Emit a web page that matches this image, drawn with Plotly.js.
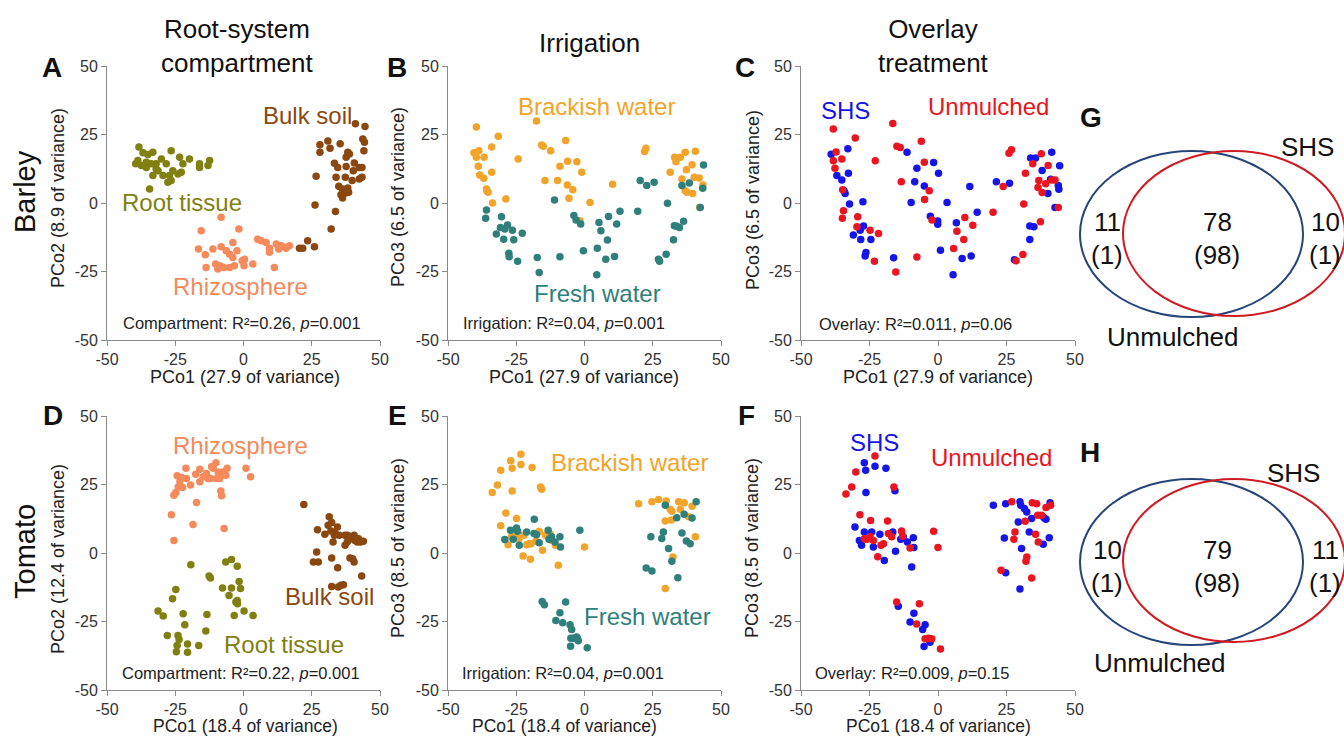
<!DOCTYPE html>
<html>
<head>
<meta charset="utf-8">
<script src="https://cdn.plot.ly/plotly-3.0.1.min.js"></script>
<style>html,body{margin:0;padding:0;background:#fff;}#chart{width:1344px;height:738px;}</style>
</head>
<body>
<div id="chart"></div>
<script>
// ---------- DATA ----------
var tickVals = [-50, -25, 0, 25, 50];
var tickLabels = ['-50', '-25', '0', '25', '50'];

// Panel A (Barley, PCo1 vs PCo2)
var aRootX = [-38.3,-36.8,-35.0,-33.2,-38.7,-39.5,-37.4,-35.6,-33.8,-32.0,-30.1,-28.3,-26.5,-23.4,-22.2,-19.8,-16.1,-16.1,-12.4,-13.0,-33.2,-31.3,-29.5,-27.1,-25.9,-24.0,-22.8,-27.7,-26.5,-34.4,-32.0,-35.6];
var aRootY = [20.4,18.3,17.7,18.5,15.5,14.3,13.7,14.9,14.3,14.3,16.1,14.3,19.1,16.7,14.3,16.1,14.3,13.0,15.5,13.7,10.0,11.8,10.0,10.0,11.8,10.6,11.2,7.6,8.2,5.1,12.4,13.0];
var aRhizoX = [-8.2,-15.5,-1.7,-16.5,-14.0,-11.2,-8.2,-6.3,-5.1,-2.4,-3.9,0.4,-3.3,-5.1,-7.2,-8.7,-10.2,-9.4,-13.7,0.2,3.4,-0.5,-3.9,5.2,6.5,8.3,9.5,12.0,13.8,12.9,9.5,15.6,16.8,11.3,14.1];
var aRhizoY = [-5.2,-10.1,-9.5,-16.8,-18.9,-16.8,-16.0,-17.4,-18.7,-17.4,-19.9,-20.5,-22.9,-23.5,-23.5,-22.9,-22.3,-24.1,-23.5,-22.9,-22.3,-21.1,-14.4,-13.2,-13.8,-14.4,-16.5,-15.0,-15.6,-16.8,-18.0,-16.5,-15.6,-23.5,-15.9];
var aBulkX = [41.0,44.5,28.0,30.9,31.7,35.4,28.0,38.2,38.8,37.6,43.7,44.3,44.1,33.3,34.5,40.6,42.4,43.4,37.6,33.9,37.3,39.8,42.4,43.4,40.2,26.6,34.9,36.3,38.2,37.6,35.7,38.5,36.3,33.7,26.2,32.1,23.5,20.5,21.7,26.0];
var aBulkY = [28.9,27.9,21.3,22.6,20.0,21.6,18.5,18.5,17.9,16.7,23.4,22.2,19.1,14.5,13.0,14.6,13.0,13.0,13.3,9.4,9.4,8.2,8.8,9.4,11.8,9.8,6.1,5.1,5.5,3.7,3.0,3.9,1.8,-3.1,-0.7,-9.5,-13.8,-16.5,-16.5,-16.0];

// Panel B (Barley, PCo1 vs PCo3)
var bBrackX = [-39.6,-40.5,-38.7,-39.6,-38.9,-38.4,-36.9,-36.8,-35.9,-35.7,-35.3,-33.7,-34.0,-34.0,-31.6,-28.8,-24.3,-17.6,-15.7,-15.1,-12.4,-14.5,-9.9,-9.0,-6.9,-6.2,-6.3,-5.7,-4.3,-2.8,-1.0,2.0,-1.7,10.3,22.0,22.5,31.4,33.0,33.5,35.1,36.9,35.7,37.3,36.9,37.5,39.6,39.4,40.6,40.2,42.0,43.4,42.2];
var bBrackY = [27.7,18.3,19.1,16.7,13.4,10.2,9.0,16.7,5.1,4.3,3.9,0.0,11.2,20.4,24.4,1.5,16.1,29.9,21.2,20.7,19.1,8.2,8.2,13.4,22.8,15.2,6.6,1.7,4.8,15.1,11.2,0.2,-6.5,6.8,18.8,20.0,11.2,16.7,15.1,16.7,18.5,8.8,12.1,4.5,3.9,3.5,14.0,18.9,9.4,9.1,6.6,-1.6];
var bFreshX = [-35.9,-36.2,-32.3,-30.4,-30.8,-29.2,-29.6,-28.2,-26.4,-25.9,-22.8,-27.7,-27.6,-24.5,-17.3,-16.6,-9.0,-11.0,-3.9,-3.1,-1.4,-0.4,4.7,5.3,6.0,8.4,8.8,7.8,11.0,11.8,13.0,4.5,19.5,20.4,22.8,25.5,27.1,27.5,29.9,30.4,32.6,32.9,33.8,34.8,36.3,35.7,38.4,43.3,43.6,42.4];
var bFreshY = [-2.6,-5.6,-11.3,-5.0,-8.9,-9.5,-13.2,-8.0,-9.9,-13.4,-11.0,-18.3,-19.6,-21.3,-19.9,-25.4,-19.6,1.1,-4.6,-6.2,-7.7,-17.4,-16.5,-7.1,-10.1,-13.5,-4.9,-20.5,-19.5,-7.7,-3.0,-26.2,-3.0,8.2,6.4,7.6,-20.5,-21.3,-18.7,-0.1,-13.4,-8.3,-8.5,-8.9,-6.7,6.4,7.3,5.4,13.9,-1.6];

// Panel C (Barley, overlay treatment)
var cShsX = [-39.0,-32.9,-36.9,-35.1,-34.3,-33.9,-32.7,-32.3,-27.4,-30.9,-28.2,-28.4,-27.2,-24.5,-26.3,-26.6,-16.2,-11.3,-9.8,-7.7,-8.5,-5.0,-1.6,0.2,-2.8,-0.1,-0.1,0.9,3.3,6.7,5.5,8.8,11.6,12.1,14.3,21.3,26.1,27.9,33.5,33.5,33.8,35.6,35.0,38.0,40.1,41.1,41.5,42.7,44.4,43.9,44.1];
var cShsY = [17.8,19.8,10.0,8.4,4.5,3.5,10.9,-0.4,0.5,-11.7,-13.3,-9.9,-8.4,-13.3,-18.1,-19.3,-20.0,18.5,0.2,12.7,7.8,6.2,14.8,10.9,-4.8,-6.6,-7.8,-17.2,0.2,-7.2,-26.2,-20.3,6.0,-19.3,-3.4,7.8,7.2,-20.7,-8.4,-13.3,16.4,16.4,-8.7,11.9,3.5,8.7,18.5,-1.6,13.6,6.4,5.0];
var cUnX = [-38.2,-38.2,-37.2,-37.6,-35.1,-34.8,-34.5,-34.9,-30.2,-29.6,-29.3,-24.8,-22.9,-21.7,-23.2,-16.5,-15.0,-13.8,-13.4,-15.4,-7.7,-6.1,-5.0,-4.9,-3.2,-2.2,5.7,6.9,9.4,9.8,12.7,20.1,23.8,25.9,26.8,28.5,31.0,31.3,31.9,34.6,36.8,36.5,37.7,37.4,38.0,39.3,40.2,41.5,42.7,43.9];
var cUnY = [27.0,15.4,18.6,12.7,16.1,4.8,-2.8,-5.6,23.7,-8.7,-5.0,-9.9,15.4,-11.1,-21.3,29.0,20.7,20.3,7.8,-25.2,-19.7,22.5,14.9,1.3,4.5,-6.2,-16.6,-10.3,-13.3,-5.3,-8.1,-3.4,6.0,18.2,19.4,-21.1,-18.8,-0.4,10.9,14.3,8.2,5.7,18.0,-6.8,3.8,7.0,13.7,8.4,8.4,-1.6];

// Panel D (Tomato, PCo1 vs PCo2)
var dRhizoX = [-16.0,-21.1,-24.3,-22.7,-20.9,-19.4,-23.3,-23.9,-22.3,-24.8,-25.5,-17.5,-16.0,-14.8,-13.6,-13.0,-11.1,-10.1,-11.7,-9.3,-8.7,-7.5,-6.0,-6.5,-9.9,-12.1,-8.3,-8.0,0.9,2.6,-17.2,-26.4,-18.5,-7.1,-25.5];
var dRhizoY = [30.6,30.9,28.2,27.6,27.2,24.8,26.0,24.1,23.9,22.1,21.1,28.7,26.0,27.8,29.0,27.2,30.9,32.9,31.5,29.6,27.2,29.6,30.9,28.4,27.2,27.2,22.6,20.9,30.9,27.8,18.4,14.0,10.4,8.9,4.6];
var dRootX = [-19.3,-6.5,-4.4,-2.3,-12.6,-12.1,-1.6,-1.1,-4.4,-7.7,-5.3,-2.3,-2.8,-2.2,0.2,3.5,-3.4,-24.8,-26.0,-31.3,-29.4,-22.1,-21.5,-27.9,-24.0,-23.6,-24.3,-24.6,-20.5,-20.5,-16.4,-13.4,-13.8];
var dRootY = [-4.3,-3.3,-2.4,-4.8,-8.4,-9.1,-10.4,-13.0,-12.8,-12.8,-15.5,-17.3,-17.9,-18.5,-21.2,-22.8,-22.8,-13.3,-16.7,-21.2,-23.0,-22.2,-26.2,-30.1,-30.1,-31.6,-33.8,-36.0,-33.2,-36.2,-33.8,-22.4,-28.5];
var dBulkX = [22.1,27.1,31.0,32.0,33.5,33.3,34.4,31.4,32.3,29.8,32.8,35.1,37.2,38.1,39.0,40.5,40.8,42.1,42.9,43.9,41.7,38.0,37.2,26.8,25.6,27.4,32.3,39.0,40.0,40.5,34.5,43.3,32.3,34.7,35.7,36.6];
var dBulkY = [17.7,8.5,10.1,8.0,7.4,6.5,9.5,13.2,11.1,6.8,4.0,6.5,6.5,6.5,5.2,6.5,4.6,5.2,4.0,4.3,4.0,4.0,2.8,0.4,-3.3,-3.3,-1.8,-1.8,-2.1,-3.3,-5.4,-8.4,-12.2,-12.4,-11.8,-11.6];

// Panel E (Tomato, PCo1 vs PCo3)
var eBrackX = [-33.8,-31.9,-30.7,-27.0,-26.5,-26.5,-23.3,-23.3,-19.2,-16.1,-15.7,-28.8,-30.7,-24.9,-28.0,-26.8,-25.2,-24.0,-22.2,-21.2,-20.3,-19.6,-22.5,-19.8,-16.6,-17.8,-15.4,-14.3,-12.4,-12.0,-10.6,-9.6,0.0,19.8,24.7,27.1,29.9,29.6,31.4,32.0,32.4,31.8,34.5,36.5,38.1,39.4,40.6,29.6,35.1];
var eBrackY = [22.1,24.8,30.2,33.7,30.9,22.6,36.0,32.3,31.2,24.1,23.3,14.6,9.9,12.6,3.0,5.9,6.7,5.2,6.5,3.0,3.4,3.4,-1.1,-2.3,7.9,4.3,1.0,6.5,6.7,4.6,2.8,-4.5,2.2,18.0,18.7,19.5,19.0,11.7,16.0,15.2,-1.5,12.0,18.7,18.3,13.2,17.1,5.9,-13.0,16.0];
var eFreshX = [-29.2,-27.1,-26.1,-24.9,-24.5,-23.9,-21.2,-18.5,-18.4,-17.6,-16.6,-13.3,-13.0,-12.1,-10.8,-9.0,-8.8,-1.7,-15.5,-14.7,-10.5,-9.0,-8.0,-6.9,-5.3,-4.7,-5.0,-4.1,-2.9,-2.3,-5.1,1.0,-2.6,22.6,24.7,24.3,28.3,28.9,29.6,30.8,32.0,34.2,33.8,35.7,36.5,37.3,38.7,39.4,40.9];
var eFreshY = [4.9,8.3,5.0,9.1,7.9,2.8,7.7,7.1,12.3,6.7,3.7,8.3,5.0,5.9,4.0,5.9,2.2,8.3,-17.7,-18.9,-24.6,-21.8,-25.5,-17.9,-26.2,-27.9,-31.1,-31.1,-30.7,-32.0,-34.0,-34.6,-31.1,-5.5,-6.6,5.9,5.3,7.7,17.4,1.6,-3.0,-9.0,12.9,7.3,14.1,4.4,3.4,12.8,18.7];

// Panel F (Tomato, overlay treatment)
var fShsX = [-26.9,-26.4,-23.0,-19.0,-26.3,-15.7,-30.3,-28.7,-27.9,-26.9,-24.2,-23.6,-21.2,-19.6,-16.5,-15.5,-13.6,-12.7,-11.2,-9.0,-8.8,-9.6,-14.5,-8.8,-10.2,-4.7,-5.6,-2.9,-5.1,20.2,24.7,24.2,24.7,29.9,30.2,31.5,32.4,29.3,30.5,34.2,29.9,38.7,39.4,40.9,40.6,38.4,33.3];
var fShsY = [32.9,30.2,31.7,30.9,22.1,22.7,9.5,4.6,2.8,7.7,7.7,2.2,6.8,-2.7,7.7,0.6,5.0,5.9,4.0,5.6,2.0,-5.1,-19.4,-22.0,-25.2,-26.2,-27.9,-32.6,-34.1,17.4,18.0,5.5,-7.2,18.7,17.4,16.2,15.0,11.3,1.6,12.6,-13.1,12.9,12.3,18.3,5.6,3.2,7.7];
var fUnX = [-33.6,-31.5,-30.0,-23.0,-28.5,-24.6,-26.9,-26.0,-24.8,-23.6,-22.0,-20.8,-19.9,-18.4,-18.1,-16.9,-16.1,-13.3,-12.9,-10.2,-1.6,0.0,-15.1,-6.8,-7.8,-4.7,-3.5,-2.3,0.9,23.0,26.9,28.1,27.7,31.8,32.4,32.1,34.4,36.0,36.4,35.6,36.6,37.8,39.4,34.2,41.1];
var fUnY = [21.5,24.1,29.6,35.4,14.0,11.9,5.2,5.0,5.9,4.6,-1.4,2.8,3.4,11.7,7.1,5.9,24.1,8.0,6.1,1.8,7.9,2.0,-17.9,-18.5,-25.9,-31.3,-31.1,-31.3,-35.0,-6.3,18.7,7.7,5.0,11.6,-1.5,-3.0,18.3,18.0,13.8,6.8,4.0,13.8,16.6,-9.1,17.4];

// Venn counts (G: Barley, H: Tomato): [Unmulched only, shared, SHS only]
var vennSets = ['Unmulched', 'SHS'];
var vennG = [11, 78, 10];
var vennGsub = [1, 98, 1];
var vennH = [10, 79, 11];
var vennHsub = [1, 98, 1];

// Text
var colTitles = ['Root-system<br>compartment', 'Irrigation', 'Overlay<br>treatment'];
var rowTitles = ['Barley', 'Tomato'];
var statsText = [
  'Compartment: R\u00b2=0.26, <i>p</i>=0.001',
  'Irrigation: R\u00b2=0.04, <i>p</i>=0.001',
  'Overlay: R\u00b2=0.011, <i>p</i>=0.06',
  'Compartment: R\u00b2=0.22, <i>p</i>=0.001',
  'Irrigation: R\u00b2=0.04, <i>p</i>=0.001',
  'Overlay: R\u00b2=0.009, <i>p</i>=0.15'
];
var xTitles = ['PCo1 (27.9 of variance)', 'PCo1 (18.4 of variance)'];
var yTitles = ['PCo2 (8.9 of variance)', 'PCo3 (6.5 of variance)', 'PCo3 (6.5 of variance)',
               'PCo2 (12.4 of variance)', 'PCo3 (8.5 of variance)', 'PCo3 (8.5 of variance)'];

// ---------- STYLE ----------
var W = 1344, H = 738;
var FONT = 'Liberation Sans, Arial, sans-serif';
var C_ROOT = '#808010', C_RHIZO = '#f58a5c', C_BULK = '#8a4710';
var C_BRACK = '#f2a42a', C_FRESH = '#2f7f7a', C_SHS = '#1515e8', C_UN = '#ea1520';
var C_VBLUE = '#27457a', C_VRED = '#d01a22';

function px(x) { return x / W; }
function py(y) { return 1 - y / H; }

function tr(x, y, color, n) {
  var s = n === 1 ? '' : String(n);
  return {type: 'scatter', mode: 'markers', x: x, y: y, xaxis: 'x' + s, yaxis: 'y' + s,
          marker: {color: color, size: 7.5, line: {width: 0}}, hoverinfo: 'skip', showlegend: false};
}

var data = [
  tr(aRootX, aRootY, C_ROOT, 1), tr(aRhizoX, aRhizoY, C_RHIZO, 1), tr(aBulkX, aBulkY, C_BULK, 1),
  tr(bBrackX, bBrackY, C_BRACK, 2), tr(bFreshX, bFreshY, C_FRESH, 2),
  tr(cShsX, cShsY, C_SHS, 3), tr(cUnX, cUnY, C_UN, 3),
  tr(dRhizoX, dRhizoY, C_RHIZO, 4), tr(dRootX, dRootY, C_ROOT, 4), tr(dBulkX, dBulkY, C_BULK, 4),
  tr(eBrackX, eBrackY, C_BRACK, 5), tr(eFreshX, eFreshY, C_FRESH, 5),
  tr(fShsX, fShsY, C_SHS, 6), tr(fUnX, fUnY, C_UN, 6)
];

// panel pixel boxes
var colX = [[107, 380], [448, 721], [801, 1075]];
var rowY = [[66, 340], [416, 690]];

var layout = {
  width: W, height: H, margin: {l: 0, r: 0, t: 0, b: 0},
  paper_bgcolor: '#ffffff', plot_bgcolor: '#ffffff',
  font: {family: FONT, color: '#222'},
  showlegend: false, annotations: [], shapes: []
};

for (var r = 0; r < 2; r++) {
  for (var c = 0; c < 3; c++) {
    var n = r * 3 + c + 1;
    var s = n === 1 ? '' : String(n);
    var common = {range: [-50, 50], tickvals: tickVals, ticktext: tickLabels, showline: true,
      linecolor: '#8a8a8a', linewidth: 1, ticks: 'outside', ticklen: 5, tickcolor: '#8a8a8a',
      showgrid: false, zeroline: false, tickfont: {size: 16, color: '#333', family: FONT}, fixedrange: true};
    layout['xaxis' + s] = Object.assign({}, common, {domain: [px(colX[c][0]), px(colX[c][1])], anchor: 'y' + s});
    layout['yaxis' + s] = Object.assign({}, common, {domain: [py(rowY[r][1]), py(rowY[r][0])], anchor: 'x' + s});
  }
}

function ann(text, x, y, size, color, opts) {
  var a = {text: text, x: px(x), y: py(y), xref: 'paper', yref: 'paper', showarrow: false,
           xanchor: 'center', yanchor: 'middle', font: {size: size, color: color || '#222', family: FONT}};
  return Object.assign(a, opts || {});
}
var A = layout.annotations;

// column titles
A.push(ann(colTitles[0], 237, 46, 26, '#111'));
A.push(ann(colTitles[1], 589, 43, 26, '#111'));
A.push(ann(colTitles[2], 933, 46, 26, '#111'));
// row titles
A.push(ann(rowTitles[0], 25, 192, 29, '#111', {textangle: -90}));
A.push(ann(rowTitles[1], 25, 552, 29, '#111', {textangle: -90}));
// panel letters
var letters = [['A', 52, 66], ['B', 397, 66], ['C', 745, 66], ['D', 53, 415], ['E', 397, 415], ['F', 746, 415], ['G', 1091, 117], ['H', 1090, 452]];
letters.forEach(function (l) { A.push(ann('<b>' + l[0] + '</b>', l[1], l[2] + 1, 28, '#111')); });

// axis titles (top row centred; bottom row sits on the page's bottom edge)
var xtPos = [[245, 377], [584, 377], [938, 377], [245, 738], [564, 738], [938, 738]];
var ytPos = [[58, 198], [398, 197], [753, 200], [58, 559], [398, 548], [752, 548]];
for (var i = 0; i < 6; i++) {
  if (i < 3) A.push(ann(xTitles[0], xtPos[i][0], xtPos[i][1], 18, '#222'));
  else A.push(ann(xTitles[1], xtPos[i][0], xtPos[i][1], 17.5, '#222', {yanchor: 'bottom'}));
  A.push(ann(yTitles[i], ytPos[i][0], ytPos[i][1], 18, '#222', {textangle: -90}));
}
// stats
var stPos = [[242, 323], [564, 323], [915, 324], [241, 673], [563, 673], [912, 673]];
for (var i = 0; i < 6; i++) A.push(ann(statsText[i], stPos[i][0], stPos[i][1], 16.5, '#222'));

// group labels
A.push(ann('Bulk soil', 307, 115, 24, C_BULK));
A.push(ann('Root tissue', 182, 202, 24, C_ROOT));
A.push(ann('Rhizosphere', 240, 287, 24, C_RHIZO));
A.push(ann('Brackish water', 596, 106, 24, C_BRACK));
A.push(ann('Fresh water', 597, 293, 24, C_FRESH));
A.push(ann('SHS', 845, 110, 24, C_SHS));
A.push(ann('Unmulched', 988, 107, 24, C_UN));
A.push(ann('Rhizosphere', 240, 445, 24, C_RHIZO));
A.push(ann('Bulk soil', 329, 596, 24, C_BULK));
A.push(ann('Root tissue', 284, 644, 24, C_ROOT));
A.push(ann('Brackish water', 629, 462, 24, C_BRACK));
A.push(ann('Fresh water', 647, 616, 24, C_FRESH));
A.push(ann('SHS', 874, 442, 24, C_SHS));
A.push(ann('Unmulched', 991, 457, 24, C_UN));

// Venn diagrams
function venn(counts, subs, blue, red, numY, shsPos, unPos) {
  layout.shapes.push({type: 'circle', xref: 'paper', yref: 'paper', x0: px(blue[0]), x1: px(blue[1]), y0: py(blue[3]), y1: py(blue[2]), line: {color: C_VBLUE, width: 2}});
  layout.shapes.push({type: 'circle', xref: 'paper', yref: 'paper', x0: px(red[0]), x1: px(red[1]), y0: py(red[3]), y1: py(red[2]), line: {color: C_VRED, width: 2}});
  var xs = [1107, 1217, 1325];
  for (var k = 0; k < 3; k++) {
    A.push(ann(String(counts[k]), xs[k], numY, 26, '#111'));
    A.push(ann('(' + subs[k] + ')', xs[k], numY + 33, 26, '#111'));
  }
  A.push(ann(vennSets[1], shsPos[0], shsPos[1], 26, '#111'));
  A.push(ann(vennSets[0], unPos[0], unPos[1], 26, '#111'));
}
venn(vennG, vennGsub, [1080, 1303, 151, 317], [1123, 1345, 151, 316], 222, [1307, 147], [1173, 337]);
venn(vennH, vennHsub, [1080, 1303, 479, 645], [1123, 1345, 479, 642], 550, [1293, 473], [1160, 663]);

Plotly.newPlot('chart', data, layout, {staticPlot: true, displayModeBar: false});
</script>
</body>
</html>
